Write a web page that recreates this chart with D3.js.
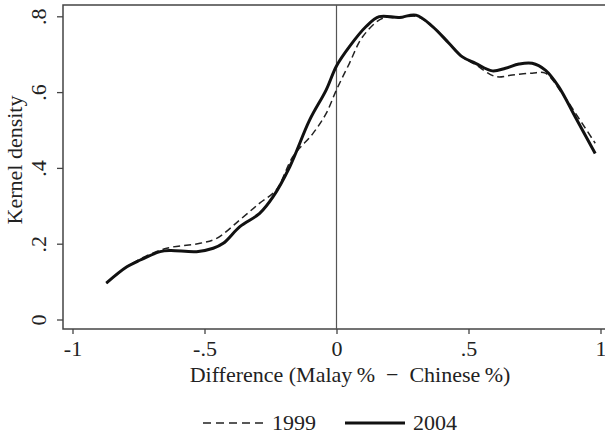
<!DOCTYPE html>
<html>
<head>
<meta charset="utf-8">
<script src="https://cdn.jsdelivr.net/npm/d3@7"></script>
<style>
  body { margin: 0; background: #fff; }
  text { font-family: "Liberation Serif", "Times New Roman", serif; fill: #222; }
</style>
</head>
<body>
<svg id="chart" width="605" height="436"></svg>
<script>
// kernel density curves
var x1999 = [-0.872, -0.794, -0.743, -0.643, -0.517, -0.454, -0.366, -0.291, -0.228, -0.165, -0.089, -0.039, 0.0, 0.049, 0.099, 0.175, 0.238, 0.301, 0.364, 0.426, 0.477, 0.527, 0.603, 0.666, 0.741, 0.791, 0.854, 0.930, 0.980];
var d1999 = [0.096, 0.139, 0.160, 0.188, 0.201, 0.214, 0.263, 0.307, 0.342, 0.430, 0.491, 0.544, 0.606, 0.676, 0.746, 0.795, 0.795, 0.800, 0.773, 0.729, 0.693, 0.672, 0.641, 0.645, 0.650, 0.650, 0.597, 0.518, 0.465];

var x2004 = [-0.872, -0.794, -0.743, -0.668, -0.630, -0.530, -0.467, -0.429, -0.366, -0.291, -0.240, -0.177, -0.102, -0.039, 0.0, 0.049, 0.112, 0.162, 0.238, 0.301, 0.364, 0.426, 0.477, 0.527, 0.590, 0.640, 0.691, 0.741, 0.791, 0.842, 0.904, 0.980];
var d2004 = [0.096, 0.139, 0.157, 0.179, 0.182, 0.179, 0.188, 0.201, 0.245, 0.280, 0.324, 0.403, 0.526, 0.606, 0.669, 0.720, 0.773, 0.799, 0.797, 0.803, 0.773, 0.729, 0.693, 0.676, 0.656, 0.663, 0.674, 0.676, 0.658, 0.614, 0.535, 0.438];

var xTicks = [-1, -0.5, 0, 0.5, 1];
var yTicks = [0, 0.2, 0.4, 0.6, 0.8];
var seriesNames = ['1999', '2004'];

var svg = d3.select('#chart');

var frame = {left: 63, top: 5, right: 612, bottom: 329};
var fontSize = '22px';

var x = d3.scaleLinear().domain([-1, 1]).range([72.5, 600.5]);
var y = d3.scaleLinear().domain([0, 0.8]).range([319.5, 16.3]);

function fmt(v) {
    if (v === 0) return '0';
    return String(v).replace('0.', '.');
}

// plot frame
svg.append('rect')
    .attr('x', frame.left)
    .attr('y', frame.top)
    .attr('width', frame.right - frame.left)
    .attr('height', frame.bottom - frame.top)
    .attr('fill', 'none')
    .attr('stroke', '#444')
    .attr('stroke-width', 1.5);

// reference line at zero
svg.append('line')
    .attr('x1', x(0)).attr('x2', x(0))
    .attr('y1', frame.top).attr('y2', frame.bottom)
    .attr('stroke', '#555')
    .attr('stroke-width', 1.2);

// x axis
var xAxis = svg.append('g')
    .attr('transform', 'translate(0,' + frame.bottom + ')')
    .call(d3.axisBottom(x).tickValues(xTicks).tickSize(5).tickPadding(6).tickFormat(fmt));
xAxis.select('.domain').remove();
xAxis.selectAll('line').attr('stroke', '#444').attr('stroke-width', 1.3);
xAxis.selectAll('text')
    .attr('font-size', fontSize)
    .attr('font-family', '"Liberation Serif", serif')
    .attr('fill', '#222');

// y axis
var yAxis = svg.append('g')
    .attr('transform', 'translate(' + frame.left + ',0)')
    .call(d3.axisLeft(y).tickValues(yTicks).tickSize(6).tickFormat(fmt));
yAxis.select('.domain').remove();
yAxis.selectAll('line').attr('stroke', '#444').attr('stroke-width', 1.3);
yAxis.selectAll('text')
    .attr('x', null).attr('dy', null)
    .attr('text-anchor', 'middle')
    .attr('transform', 'translate(-17,0) rotate(-90)')
    .attr('font-size', fontSize)
    .attr('font-family', '"Liberation Serif", serif')
    .attr('fill', '#222');

// axis titles
svg.append('text')
    .attr('x', 350)
    .attr('y', 382)
    .attr('text-anchor', 'middle')
    .attr('font-size', fontSize)
    .text('Difference (Malay\u2009%\u2002\u2212\u2002Chinese\u2009%)');

svg.append('text')
    .attr('transform', 'translate(22,160) rotate(-90)')
    .attr('text-anchor', 'middle')
    .attr('font-size', fontSize)
    .text('Kernel density');

// curves
var line = d3.line()
    .x(function(d) { return x(d[0]); })
    .y(function(d) { return y(d[1]); })
    .curve(d3.curveCatmullRom.alpha(0.5));

var pts1999 = x1999.map(function(v, i) { return [v, d1999[i]]; });
var pts2004 = x2004.map(function(v, i) { return [v, d2004[i]]; });

svg.append('path')
    .datum(pts1999)
    .attr('d', line)
    .attr('fill', 'none')
    .attr('stroke', '#222')
    .attr('stroke-width', 1.5)
    .attr('stroke-dasharray', '7,4');

svg.append('path')
    .datum(pts2004)
    .attr('d', line)
    .attr('fill', 'none')
    .attr('stroke', '#111')
    .attr('stroke-width', 3);

// legend
var legend = svg.append('g');
legend.append('line')
    .attr('x1', 203).attr('x2', 266)
    .attr('y1', 423).attr('y2', 423)
    .attr('stroke', '#222')
    .attr('stroke-width', 1.5)
    .attr('stroke-dasharray', '8,5');
legend.append('text')
    .attr('x', 272).attr('y', 430)
    .attr('font-size', fontSize)
    .text(seriesNames[0]);
legend.append('line')
    .attr('x1', 345).attr('x2', 405)
    .attr('y1', 423).attr('y2', 423)
    .attr('stroke', '#111')
    .attr('stroke-width', 3);
legend.append('text')
    .attr('x', 413).attr('y', 430)
    .attr('font-size', fontSize)
    .text(seriesNames[1]);
</script>
</body>
</html>
